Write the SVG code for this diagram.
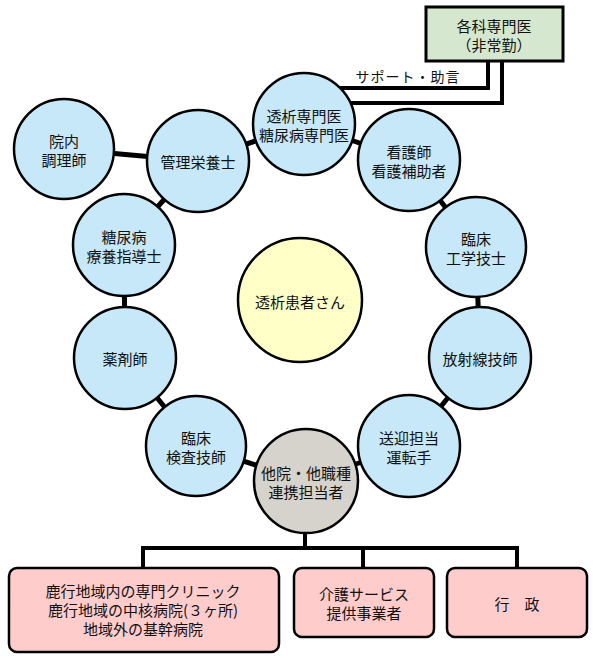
<svg xmlns="http://www.w3.org/2000/svg" width="600" height="660" viewBox="0 0 600 660">
<style>
text{font-family:"Noto Sans CJK JP","Noto Sans CJK SC",sans-serif;font-size:15px;fill:#111;text-anchor:middle;dominant-baseline:central}
.c{stroke:#000;stroke-width:2.5}
.blue{fill:#c6e8f8}
.link{stroke:#000;stroke-width:5;fill:none}
.tree{stroke:#000;stroke-width:4;fill:none}
.box{fill:#ffcccc;stroke:#000;stroke-width:2.5}
</style>
<rect width="600" height="660" fill="#fff"/>
<g id="connectors">
<polyline class="tree" points="488,61 488,88 330,88"/>
<polyline class="tree" points="502,61 502,103 340,103"/>
<line class="link" x1="64" y1="149" x2="198" y2="161"/>
<line class="link" x1="198" y1="161" x2="304" y2="124"/>
<line class="link" x1="304" y1="124" x2="409" y2="160"/>
<line class="link" x1="409" y1="160" x2="476" y2="247"/>
<line class="link" x1="476" y1="247" x2="480" y2="358"/>
<line class="link" x1="480" y1="358" x2="409" y2="446"/>
<line class="link" x1="409" y1="446" x2="306" y2="481"/>
<line class="link" x1="306" y1="481" x2="196" y2="446"/>
<line class="link" x1="196" y1="446" x2="125" y2="358"/>
<line class="link" x1="125" y1="358" x2="124" y2="245"/>
<line class="link" x1="124" y1="245" x2="198" y2="161"/>
<polyline class="tree" points="305,520 305,548"/>
<polyline class="tree" points="143,570 143,548 517,548 517,570"/>
<line class="tree" x1="363" y1="548" x2="363" y2="570"/>
<text x="408" y="76" style="font-size:14px;letter-spacing:1px">サポート・助言</text>
</g>
<g id="kakuka">
<rect x="426" y="7" width="137" height="54" fill="#d5e8cf" stroke="#000" stroke-width="3"/>
<text x="494" y="25">各科専門医</text>
<text x="494" y="44">（非常勤）</text>
</g>
<g id="toseki-senmon"><circle class="c blue" cx="304" cy="124" r="51"/><text x="304" y="115">透析専門医</text><text x="304" y="134">糖尿病専門医</text></g>
<g id="kangoshi"><circle class="c blue" cx="409" cy="160" r="51"/><text x="409" y="151">看護師</text><text x="409" y="170">看護補助者</text></g>
<g id="rinsho-kogaku"><circle class="c blue" cx="476" cy="247" r="50"/><text x="476" y="238">臨床</text><text x="476" y="257">工学技士</text></g>
<g id="hoshasen"><circle class="c blue" cx="480" cy="358" r="51"/><text x="480" y="358">放射線技師</text></g>
<g id="sogei"><circle class="c blue" cx="409" cy="446" r="51"/><text x="409" y="437">送迎担当</text><text x="409" y="456">運転手</text></g>
<g id="renkei"><circle class="c" fill="#d6d2cc" cx="306" cy="481" r="52"/><text x="306" y="472">他院・他職種</text><text x="306" y="491">連携担当者</text></g>
<g id="rinsho-kensa"><circle class="c blue" cx="196" cy="446" r="50"/><text x="196" y="437">臨床</text><text x="196" y="456">検査技師</text></g>
<g id="yakuzaishi"><circle class="c blue" cx="125" cy="358" r="51"/><text x="125" y="358">薬剤師</text></g>
<g id="tonyobyo"><circle class="c blue" cx="124" cy="245" r="51"/><text x="124" y="236">糖尿病</text><text x="124" y="255">療養指導士</text></g>
<g id="eiyoshi"><circle class="c blue" cx="198" cy="161" r="51"/><text x="198" y="161">管理栄養士</text></g>
<g id="chorishi"><circle class="c blue" cx="64" cy="149" r="50"/><text x="64" y="140">院内</text><text x="64" y="159">調理師</text></g>
<g id="kanja"><circle class="c" fill="#ffffc8" cx="300" cy="300" r="62"/><text x="300" y="301">透析患者さん</text></g>
<g id="byoin"><rect class="box" x="9" y="568" width="270" height="84" rx="8"/><text x="143" y="590">鹿行地域内の専門クリニック</text><text x="143" y="609">鹿行地域の中核病院(３ヶ所)</text><text x="143" y="628">地域外の基幹病院</text></g>
<g id="kaigo"><rect class="box" x="294" y="568" width="140" height="69" rx="8"/><text x="364" y="593">介護サービス</text><text x="364" y="612">提供事業者</text></g>
<g id="gyosei"><rect class="box" x="447" y="568" width="140" height="69" rx="8"/><text x="517" y="603">行　政</text></g>
</svg>
